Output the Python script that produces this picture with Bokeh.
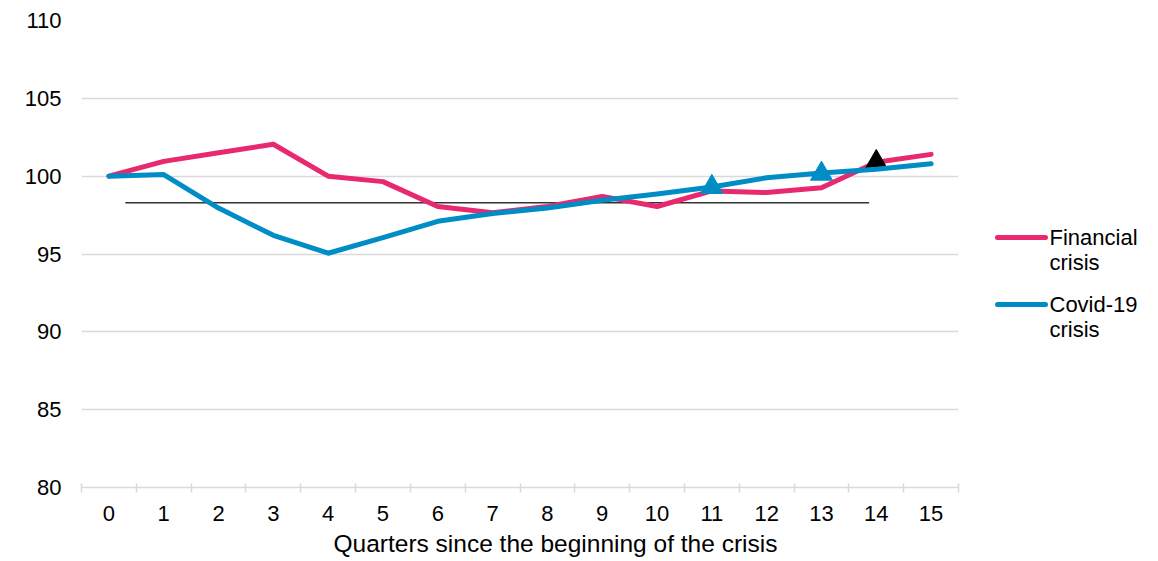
from bokeh.plotting import figure
from bokeh.models import FixedTicker, Range1d, Title
from bokeh.layouts import row
from bokeh.embed import file_html
from bokeh.resources import INLINE
from bokeh.core.properties import value

# ---- data ----
quarters = list(range(16))
financial = [100.0, 100.95, 101.5, 102.05, 100.0, 99.65, 98.05, 97.65, 98.05, 98.7, 98.05, 99.05, 98.95, 99.25, 100.9, 101.4]
covid = [100.0, 100.1, 97.95, 96.2, 95.05, 96.05, 97.1, 97.6, 97.95, 98.45, 98.85, 99.3, 99.9, 100.2, 100.45, 100.8]
blue_tri_x = [11, 13]
blue_tri_y = [99.3, 100.15]
black_tri_x = [14]
black_tri_y = [100.9]
ref_line_x = [0.3, 13.87]
ref_line_y = [98.3, 98.3]
y_ticks = [80, 85, 90, 95, 100, 105, 110]
x_title = "Quarters since the beginning of the crisis"
legend_labels = [["Financial", "crisis"], ["Covid-19", "crisis"]]

PINK = "#E9296F"
BLUE = "#008DC6"
GRID = "#D9D9D9"
FONT = "Liberation Sans"

p = figure(width=960, height=561, output_backend="svg", toolbar_location=None,
           x_range=Range1d(-0.5, 15.5), y_range=Range1d(80, 110),
           min_border_left=81, min_border_right=2, min_border_top=20, min_border_bottom=74)
p.outline_line_color = None
p.background_fill_color = "white"

p.xaxis.ticker = FixedTicker(ticks=quarters, minor_ticks=[q - 0.5 for q in quarters] + [15.5])
p.xaxis.major_tick_line_color = None
p.xaxis.major_tick_out = 0
p.xaxis.major_tick_in = 0
p.xaxis.minor_tick_line_color = GRID
p.xaxis.minor_tick_line_width = 1.5
p.xaxis.minor_tick_out = 5
p.xaxis.minor_tick_in = 4
p.xaxis.axis_line_color = GRID
p.xaxis.axis_line_width = 1.5
p.xaxis.major_label_text_font = FONT
p.xaxis.major_label_text_font_size = "22px"
p.xaxis.major_label_text_color = "#000000"
p.xaxis.major_label_standoff = 13

p.yaxis.ticker = FixedTicker(ticks=y_ticks)
p.yaxis.axis_line_color = None
p.yaxis.major_tick_line_color = None
p.yaxis.minor_tick_line_color = None
p.yaxis.major_label_text_font = FONT
p.yaxis.major_label_text_font_size = "22px"
p.yaxis.major_label_text_color = "#000000"
p.yaxis.major_label_standoff = 14

p.xgrid.grid_line_color = None
p.ygrid.grid_line_color = GRID
p.ygrid.grid_line_width = 1.5

p.add_layout(Title(text=x_title, align="left", offset=252, standoff=8,
                   text_font=FONT, text_font_size="24.5px", text_font_style="normal",
                   text_line_height=1.0, text_color="#000000"), "below")

p.line(ref_line_x, ref_line_y, line_color="#333333", line_width=1.5)
p.line(quarters, financial, line_color=PINK, line_width=5, line_join="round", line_cap="round")
p.scatter(black_tri_x, black_tri_y, marker="triangle", size=22, fill_color="black", line_color="black")
p.line(quarters, covid, line_color=BLUE, line_width=5, line_join="round", line_cap="round")
p.scatter(blue_tri_x, blue_tri_y, marker="triangle", size=22, fill_color=BLUE, line_color=BLUE)

# ---- legend panel (its frame is aligned with the main frame: page y 20..487) ----
lg = figure(width=198, height=561, output_backend="svg", toolbar_location=None,
            x_range=Range1d(0, 198), y_range=Range1d(487, 20),
            x_axis_location=None, y_axis_location=None, title=None,
            min_border=0)
lg.grid.visible = False
lg.outline_line_color = None
colors = [PINK, BLUE]
item_y = [237, 304]
for lab, c, yy in zip(legend_labels, colors, item_y):
    lg.line([37, 85], [yy, yy], line_color=c, line_width=5, line_cap="round")
    for k, t in enumerate(lab):
        lg.text([89], [yy + 25 * k], text=[t], text_font=value(FONT), text_font_size="22px",
                text_baseline="middle", text_align="left", text_color="#000000")

layout = row(p, lg)
open("out.html", "w").write(file_html(layout, INLINE))
